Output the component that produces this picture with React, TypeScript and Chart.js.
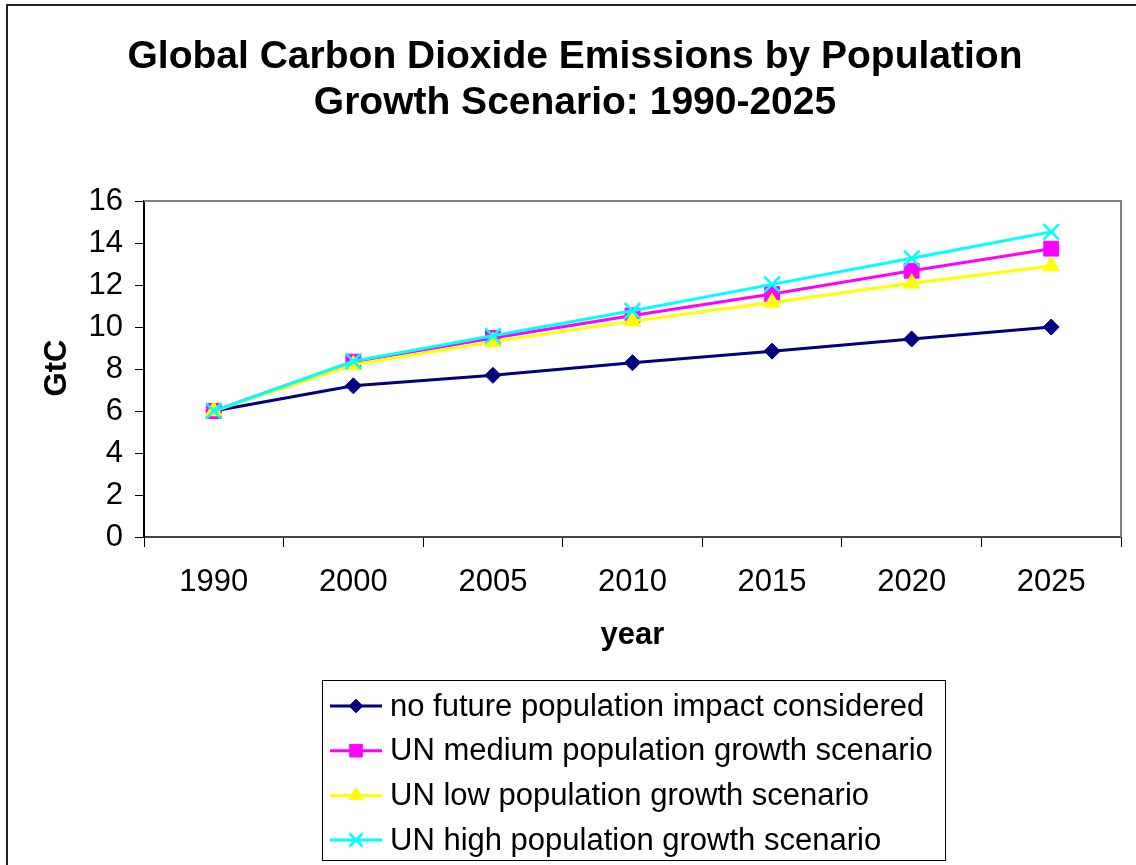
import React, { useEffect, useRef } from "react";
import { Chart, registerables } from "chart.js";
import { drawPoint } from "chart.js/helpers";

Chart.register(...registerables);

const categories = ["1990", "2000", "2005", "2010", "2015", "2020", "2025"];
const noImpact = [6.0, 7.2, 7.7, 8.3, 8.85, 9.43, 10.0];
const unMedium = [6.0, 8.35, 9.48, 10.55, 11.57, 12.68, 13.73];
const unLow = [6.0, 8.2, 9.3, 10.28, 11.17, 12.08, 12.9];
const unHigh = [6.0, 8.37, 9.58, 10.77, 12.03, 13.27, 14.53];

const seriesLabels = [
  "no future population impact considered",
  "UN medium population growth scenario",
  "UN low population growth scenario",
  "UN high population growth scenario",
];
const seriesColors = ["#000080", "#FF00FF", "#FFFF00", "#00FFFF"];
const seriesMarkers = ["rectRot", "rect", "triangle", "crossRot"];
const seriesRadius = [8, 10.5, 9.5, 11];

const yMin = 0;
const yMax = 16;
const yStep = 2;

const titleLines = [
  "Global Carbon Dioxide Emissions by Population",
  "Growth Scenario: 1990-2025",
];
const xTitle = "year";
const yTitle = "GtC";

const FONT = "'Liberation Sans', Arial, sans-serif";

function drawDecor(chart: any) {
  const ctx = chart.ctx;
  const a = chart.chartArea;
  ctx.save();
  // plot border top & right
  ctx.strokeStyle = "#808080";
  ctx.lineWidth = 2;
  ctx.beginPath();
  ctx.moveTo(a.left, a.top);
  ctx.lineTo(a.right, a.top);
  ctx.lineTo(a.right, a.bottom);
  ctx.stroke();

  // title
  ctx.fillStyle = "#000";
  ctx.textAlign = "center";
  ctx.textBaseline = "middle";
  ctx.font = `bold 39px ${FONT}`;
  ctx.fillText(titleLines[0], 575, 57);
  ctx.fillText(titleLines[1], 575, 103);

  // axis titles
  ctx.font = `bold 31px ${FONT}`;
  ctx.fillText(xTitle, (a.left + a.right) / 2, 635);
  ctx.save();
  ctx.translate(57, 368);
  ctx.rotate(-Math.PI / 2);
  ctx.fillText(yTitle, 0, 0);
  ctx.restore();

  // legend
  const lx = 322, ly = 680, lw = 623, lh = 180;
  ctx.strokeStyle = "#000";
  ctx.lineWidth = 1;
  ctx.strokeRect(lx + 0.5, ly + 0.5, lw, lh);
  ctx.textAlign = "left";
  ctx.font = `31px ${FONT}`;
  chart.data.datasets.forEach((ds: any, i: number) => {
    const y = 706 + i * 44.7;
    ctx.strokeStyle = ds.borderColor;
    ctx.lineWidth = 3;
    ctx.beginPath();
    ctx.moveTo(330, y);
    ctx.lineTo(382, y);
    ctx.stroke();
    ctx.fillStyle = ds.pointBackgroundColor;
    ctx.strokeStyle = ds.pointBorderColor;
    ctx.lineWidth = ds.pointBorderWidth;
    drawPoint(ctx, { pointStyle: ds.pointStyle, rotation: 0, radius: ds.pointRadius * 0.85, borderWidth: ds.pointBorderWidth } as any, 356, y);
    ctx.fillStyle = "#000";
    ctx.fillText(ds.label, 390, y + 1);
  });
  ctx.restore();
}

const decorPlugin = {
  id: "decor",
  beforeDraw(chart: any) {
    const ctx = chart.ctx;
    ctx.save();
    ctx.fillStyle = "#ffffff";
    ctx.fillRect(0, 0, chart.width, chart.height);
    ctx.strokeStyle = "#222";
    ctx.lineWidth = 2;
    ctx.beginPath();
    ctx.moveTo(7, chart.height + 2);
    ctx.lineTo(7, 5);
    ctx.lineTo(chart.width + 2, 5);
    ctx.stroke();
    ctx.restore();
  },
  afterDraw(chart: any) {
    drawDecor(chart);
  },
};

export default function App() {
  const ref = useRef<HTMLCanvasElement | null>(null);
  useEffect(() => {
    if (!ref.current) return;
    const values = [noImpact, unMedium, unLow, unHigh];
    const datasets = values.map((v, i) => ({
      label: seriesLabels[i],
      data: v,
      borderColor: seriesColors[i],
      backgroundColor: seriesColors[i],
      pointBackgroundColor: seriesColors[i],
      pointBorderColor: seriesColors[i],
      pointBorderWidth: seriesMarkers[i] === "crossRot" ? 2.5 : 1,
      pointStyle: seriesMarkers[i],
      pointRadius: seriesRadius[i],
      borderWidth: 3,
      tension: 0,
      order: 4 - i,
    }));
    const chart = new Chart(ref.current, {
      type: "line",
      data: { labels: categories, datasets },
      options: {
        responsive: false,
        animation: false,
        layout: { padding: { left: 0, top: 201, right: 15, bottom: 248 } },
        plugins: { legend: { display: false }, title: { display: false }, tooltip: { enabled: false } },
        scales: {
          x: {
            type: "category",
            offset: true,
            grid: { offset: true, drawOnChartArea: false, tickLength: 10, color: "#000", lineWidth: 1 },
            border: { color: "#444", width: 2 },
            ticks: { color: "#000", font: { family: FONT, size: 31 }, padding: 17, maxRotation: 0, autoSkip: false },
            afterFit(s: any) { s.height = 80; },
          },
          y: {
            min: yMin,
            max: yMax,
            grid: { drawOnChartArea: false, tickLength: 9, color: "#000", lineWidth: 1 },
            border: { color: "#000", width: 2 },
            ticks: { stepSize: yStep, color: "#000", font: { family: FONT, size: 31 }, padding: 12 },
            afterFit(s: any) { s.width = 144; },
          },
        },
      },
      plugins: [decorPlugin as any],
    });
    return () => chart.destroy();
  }, []);
  return (
    <div style={{ position: "absolute", left: 0, top: 0, width: 1136, height: 865 }}>
      <canvas ref={ref} width={1136} height={865} style={{ display: "block" }} />
    </div>
  );
}
